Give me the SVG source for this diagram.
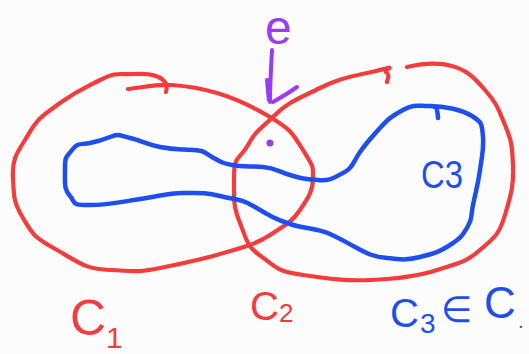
<svg xmlns="http://www.w3.org/2000/svg" width="529" height="354" viewBox="0 0 529 354">
  <style>
    .pen { fill: none; stroke-linecap: round; stroke-linejoin: round; }
    .red { stroke: #f43c3c; stroke-width: 4.2; }
    .blue { stroke: #1f4ef0; stroke-width: 4.5; }
    .violet { stroke: #9a3cf2; stroke-width: 4; }
    .lbl { font-family: "Liberation Sans", "DejaVu Sans", sans-serif; }
    .lbl-red { fill: #f43c3c; }
    .lbl-blue { fill: #1f4ef0; }
    .lbl-violet { fill: #9a3cf2; }
  </style>
  <rect width="529" height="354" fill="#fcfcfc"/>

  <!-- left loop -->
  <g id="c1">
    <path class="pen red" d="M128,89 C145,87 158,84 172,85 S200,88 217,93 S250,105 270,117 S292,132 303,150 S313,165 313,178 S308,198 300,210 S285,225 270,235 S240,248 220,254 S185,263 160,268 S135,271 110,270 S80,263 57,250 S33,235 23,218 S14,197 13,177 S18,152 28,135 S42,116 60,103 S82,89 100,80 S120,75 135,74 S158,75 163,80 S167,86 166,92"/>
  </g>

  <!-- right loop -->
  <g id="c2">
    <path class="pen red" d="M407,67 C420,64 438,62 452,66 S473,76 485,90 S498,108 505,125 S512,145 513,165 S511,195 505,215 S495,237 480,250 S458,263 437,270 S395,279 370,280 S330,279 303,275 S278,268 262,257 S247,240 240,223 S234,200 234,177 S240,160 248,145 S262,128 275,115 S300,98 320,88 S350,77 376,71 S382,69 386,72 S388,77 387,82"/>
  </g>

  <!-- inner blue loop -->
  <g id="c3">
    <path class="pen blue" d="M430,106 C445,106 462,110 472,116 S482,124 483,137 S482,155 480,170 S476,190 473,205 S473,217 468,226 S461,238 450,245 S436,253 420,257 S400,259 387,258 S368,254 355,247 S343,240 330,234 S305,229 290,224 S270,216 255,207 S235,200 220,196 S198,193 183,193 S160,196 140,199 S110,205 90,205 S76,203 70,196 S65,185 65,170 S66,158 72,150 S80,145 90,143 S100,141 110,137 S120,136 130,138 S145,144 160,147 S180,149 193,150 S203,152 212,157 S222,163 232,165 S250,166 263,167 S277,171 290,175 S305,179 318,180 S333,178 343,173 S353,162 360,152 S372,137 380,128 S392,116 403,110 S418,106 428,106 S437,108 438,118"/>
  </g>

  <!-- element e pointing at the crossing -->
  <g id="element-e">
    <text class="lbl lbl-violet" x="265" y="44" font-size="48">e</text>
    <circle cx="270" cy="143" r="3.5" fill="#9a3cf2"/>
  </g>

  <g id="connectors">
    <path class="pen violet" d="M272,50 C271,68 270,86 270,102 M267,80 C268,88 268,95 269,100 M273,102 C282,97 290,92 297,87"/>
  </g>

  <!-- labels -->
  <g id="labels">
    <text class="lbl lbl-blue" x="421" y="188" font-size="38" textLength="42" lengthAdjust="spacingAndGlyphs">C3</text>
    <text class="lbl lbl-red" x="70" y="335" font-size="50">C<tspan font-size="30" dy="13">1</tspan></text>
    <text class="lbl lbl-red" x="250" y="320" font-size="40">C<tspan font-size="26" dy="2">2</tspan></text>
    <text class="lbl lbl-blue" font-size="40"><tspan x="390" y="327">C</tspan><tspan x="420" y="333" font-size="28">3</tspan><tspan x="441" y="322" font-size="36">∈</tspan><tspan x="484" y="318" font-size="44">C</tspan><tspan x="518" y="328" font-size="20">.</tspan></text>
  </g>
</svg>
